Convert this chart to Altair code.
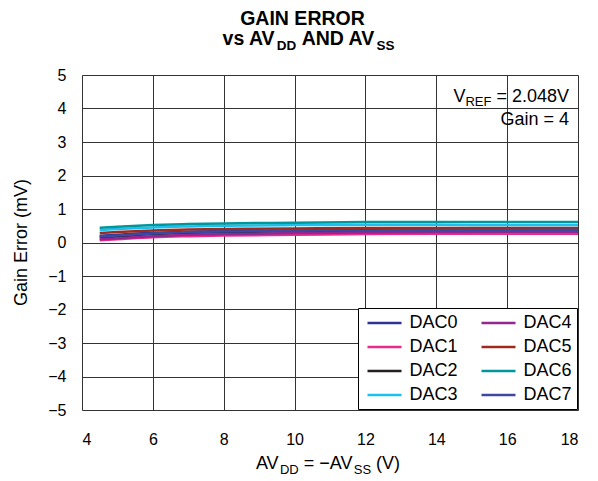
import altair as alt
import pandas as pd

# ---------------- data ----------------
supply_v = [4.5, 5, 6, 7, 8, 10, 12, 14, 16, 18]
dac0 = [0.20, 0.23, 0.29, 0.32, 0.34, 0.36, 0.37, 0.37, 0.37, 0.37]
dac1 = [0.07, 0.10, 0.16, 0.19, 0.21, 0.23, 0.25, 0.26, 0.26, 0.26]
dac2 = [0.15, 0.18, 0.25, 0.29, 0.31, 0.34, 0.36, 0.37, 0.37, 0.37]
dac3 = [0.37, 0.40, 0.45, 0.48, 0.50, 0.52, 0.53, 0.53, 0.52, 0.52]
dac4 = [0.10, 0.13, 0.19, 0.23, 0.25, 0.28, 0.30, 0.31, 0.32, 0.32]
dac5 = [0.28, 0.31, 0.36, 0.39, 0.40, 0.42, 0.43, 0.43, 0.43, 0.43]
dac6 = [0.44, 0.47, 0.52, 0.55, 0.57, 0.59, 0.61, 0.61, 0.61, 0.61]
dac7 = [0.18, 0.21, 0.27, 0.31, 0.33, 0.35, 0.36, 0.37, 0.37, 0.38]

series_names = ["DAC0", "DAC1", "DAC2", "DAC3", "DAC4", "DAC5", "DAC6", "DAC7"]
series_vals = [dac0, dac1, dac2, dac3, dac4, dac5, dac6, dac7]
series_colors = ["#2E3192", "#EC2A8C", "#231F20", "#1CC0EE",
                 "#92278F", "#9E2A1E", "#00969C", "#3F48A0"]

x_ticks = [4, 6, 8, 10, 12, 14, 16, 18]
y_ticks = [-5, -4, -3, -2, -1, 0, 1, 2, 3, 4, 5]

rows = []
for name, vals in zip(series_names, series_vals):
    for xv, yv in zip(supply_v, vals):
        rows.append({"v": xv, "err": yv, "series": name})
df = pd.DataFrame(rows)

FONT = "Liberation Sans"
W = 496
H = 335

# Arial / Liberation Sans advance widths (1/1000 em)
REG = {' ': 278, 'A': 667, 'V': 667, 'D': 722, 'S': 667, '=': 584, '\u2212': 584,
       '(': 333, ')': 333, 'R': 722, 'E': 667, 'F': 611, '.': 278, 'G': 778,
       'a': 556, 'i': 222, 'n': 556}
BOLD = {' ': 278, 'A': 722, 'V': 667, 'D': 722, 'S': 667, 'N': 722, 'v': 556,
        's': 556, 'G': 778, 'I': 278, 'E': 667, 'R': 722, 'O': 778}


def tw(s, size, bold):
    tab = BOLD if bold else REG
    return sum(tab.get(c, 556) for c in s) * size / 1000.0


def text_run(pieces, x0, y0, align, bold=False):
    """pieces: list of (text, size, dy). Returns list of text layers."""
    total = sum(tw(t, s, bold) for t, s, _ in pieces)
    if align == "center":
        x = x0 - total / 2
    elif align == "right":
        x = x0 - total
    else:
        x = x0
    layers = []
    for t, s, dy in pieces:
        stripped = t.lstrip(" ")
        lead = tw(t[:len(t) - len(stripped)], s, bold)
        layers.append(
            alt.Chart(alt.Data(values=[{}])).mark_text(
                text=stripped, font=FONT, fontSize=s,
                fontWeight="bold" if bold else "normal",
                align="left", baseline="alphabetic", color="black"
            ).encode(x=alt.value(x + lead), y=alt.value(y0 + dy))
        )
        x += tw(t, s, bold)
    return layers


lines = alt.Chart(df).mark_line(strokeWidth=2.5, interpolate="monotone").encode(
    x=alt.X("v:Q", scale=alt.Scale(domain=[4, 18], nice=False),
            axis=alt.Axis(values=x_ticks, title=None, labelFontSize=16,
                          labelPadding=21, tickSize=0, domain=False,
                          labelFont=FONT, labelColor="black",
                          gridColor="#333", gridWidth=1)),
    y=alt.Y("err:Q", scale=alt.Scale(domain=[-5, 5], nice=False),
            axis=alt.Axis(values=y_ticks, title=None, labelFontSize=16,
                          labelPadding=16, tickSize=0, domain=False,
                          labelFont=FONT, labelColor="black",
                          labelExpr="replace(datum.label, '-', '\u2212')",
                          gridColor="#333", gridWidth=1)),
    color=alt.Color("series:N",
                    scale=alt.Scale(domain=series_names, range=series_colors),
                    legend=alt.Legend(title=None, orient="bottom-right", columns=2,
                                      symbolType="M-2,0H2", symbolSize=289,
                                      symbolOffset=11.5,
                                      symbolStrokeWidth=2.5, labelFontSize=18,
                                      labelFont=FONT, labelColor="black",
                                      columnPadding=18, rowPadding=5,
                                      padding=5, labelOffset=15,
                                      strokeColor="black", fillColor="white",
                                      offset=1)),
)

layers = [lines]
# Title
layers += text_run([("GAIN ERROR", 19.5, 0)], 220.5, -50, "center", bold=True)
layers += text_run([("vs AV", 19.5, 0), ("DD", 13.5, 5), (" AND AV", 19.5, 0), ("SS", 13.5, 5)],
                   226.5, -30.5, "center", bold=True)
# x-axis title
layers += text_run([("AV", 18, 0), ("DD", 13, 5), (" = \u2212AV", 18, 0), ("SS", 13, 5),
                    (" (V)", 18, 0)], 246, 393.5, "center")
# annotations
layers += text_run([("V", 18, 0), ("REF", 13, 4), (" = 2.048V", 18, 0)], 487, 26.5, "right")
layers += text_run([("Gain = 4", 18, 0)], 487, 50, "right")
# y-axis title
layers.append(
    alt.Chart(alt.Data(values=[{}])).mark_text(
        text="Gain Error (mV)", font=FONT, fontSize=18, angle=270,
        align="center", baseline="middle", color="black"
    ).encode(x=alt.value(-60), y=alt.value(H / 2))
)

chart = alt.layer(*layers).properties(
    width=W, height=H,
    padding={"left": 74, "top": 67, "right": 12, "bottom": 65},
    autosize=alt.AutoSizeParams(type="none"),
).configure_view(stroke="black", strokeWidth=2.5).configure(background="white")

chart.save("out.html", embed_options={"renderer": "svg", "actions": False})
